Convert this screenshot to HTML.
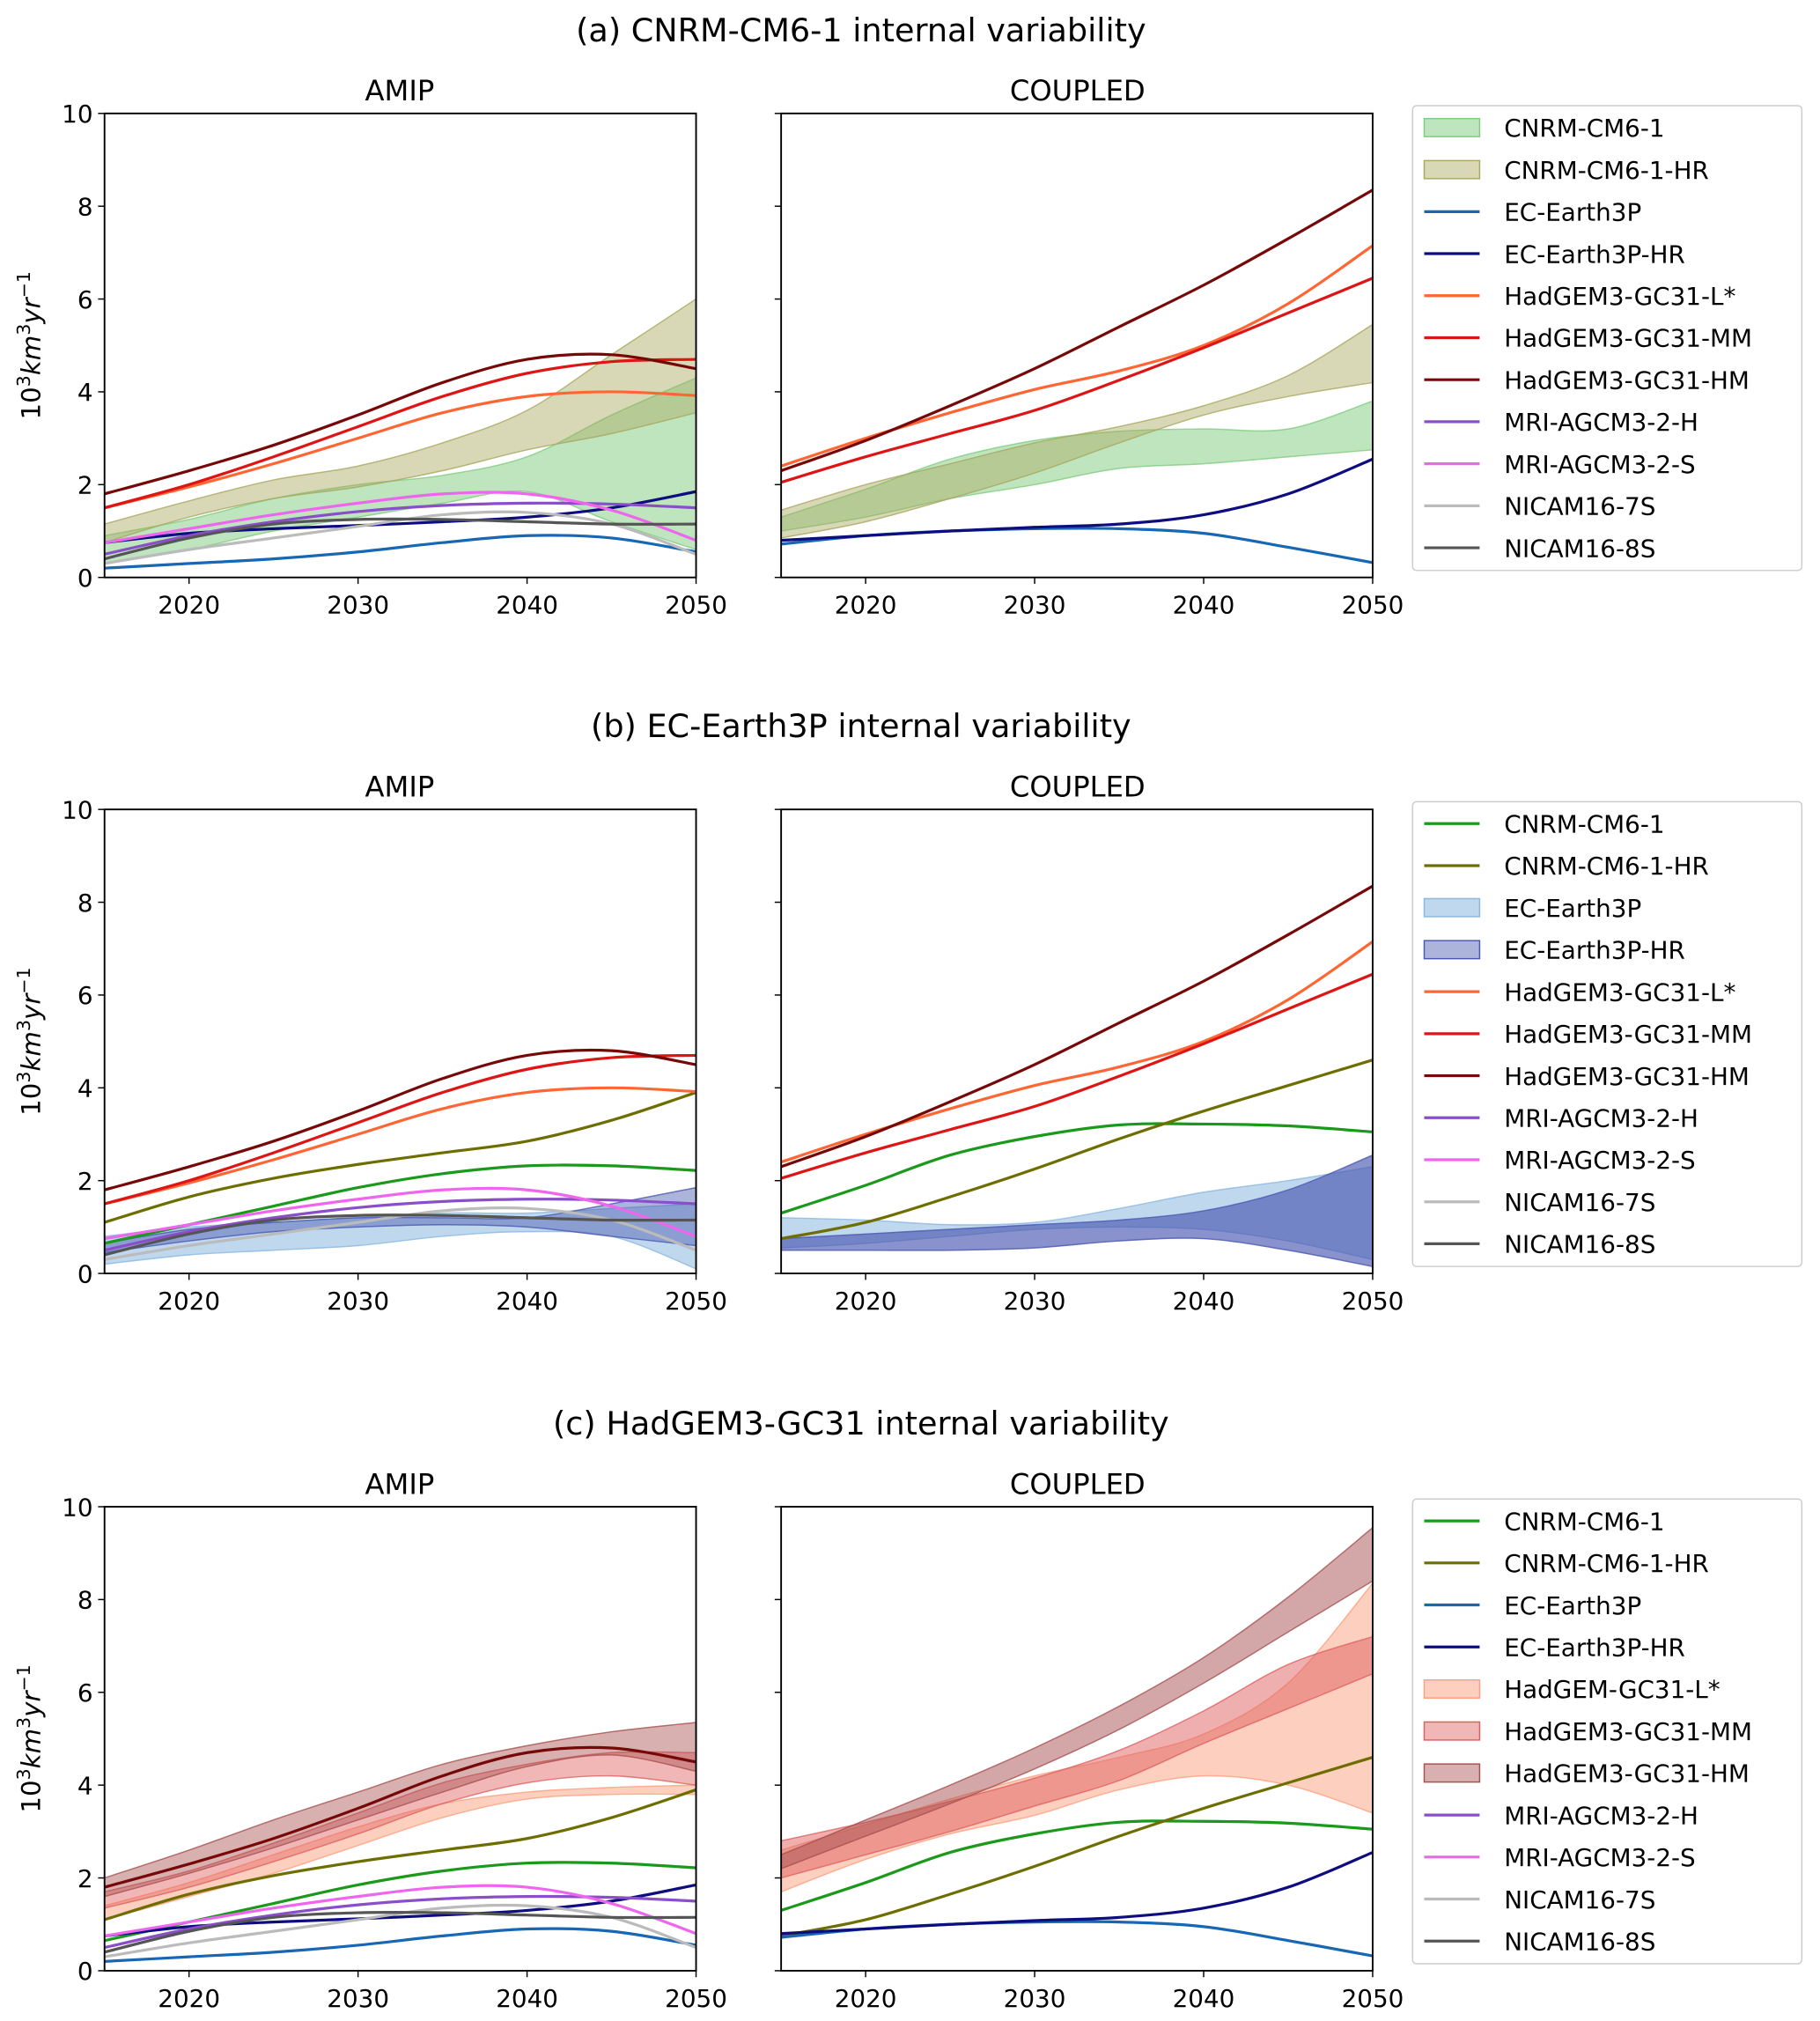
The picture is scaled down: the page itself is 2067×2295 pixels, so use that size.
<!DOCTYPE html>
<html><head><meta charset="utf-8"><style>html,body{margin:0;padding:0;background:#fff}svg{display:block}</style></head>
<body>
<svg id="s" width="2067" height="2295" viewBox="0 0 1412 1568" xmlns="http://www.w3.org/2000/svg" font-family="'DejaVu Sans','Liberation Sans',sans-serif"></svg>
<script>
const S=document.getElementById('s');let h='';
const C={ec:'#1767b5',echr:'#0d0d80',L:'#ff6633',MM:'#dd1515',HM:'#770808',mh:'#8a4fc8',ms:'#ee66ee',n7:'#bbbbbb',n8:'#555555',cn:'#1a991a',cnhr:'#6e6e00'};
const A={ec:[.2,.3,.4,.55,.75,.9,.85,.55],echr:[.75,.95,1.05,1.12,1.2,1.3,1.5,1.85],L:[1.5,1.95,2.45,3.0,3.55,3.9,4.0,3.92],MM:[1.5,2.0,2.6,3.25,3.9,4.4,4.65,4.7],HM:[1.8,2.3,2.85,3.5,4.2,4.7,4.8,4.5],mh:[.5,.9,1.2,1.42,1.55,1.6,1.58,1.5],ms:[.75,1.05,1.35,1.6,1.8,1.8,1.45,.8],n7:[.3,.6,.85,1.1,1.35,1.4,1.15,.5],n8:[.4,.85,1.15,1.25,1.25,1.2,1.15,1.15],cn:[.65,1.05,1.45,1.85,2.15,2.32,2.32,2.22],cnhr:[1.1,1.65,2.05,2.35,2.6,2.85,3.3,3.9]};
const B={ec:[.72,.9,1.0,1.05,1.05,.95,.65,.32],echr:[.8,.9,1.0,1.08,1.15,1.35,1.8,2.55],L:[2.4,3.0,3.55,4.05,4.45,5.0,5.9,7.15],MM:[2.05,2.6,3.1,3.6,4.25,4.95,5.7,6.45],HM:[2.3,2.95,3.7,4.5,5.4,6.3,7.3,8.35],cn:[1.3,1.9,2.55,2.95,3.2,3.22,3.18,3.05],cnhr:[.75,1.1,1.65,2.25,2.9,3.5,4.05,4.6]};
function path(pts){let d='M'+pts[0][0].toFixed(1)+','+pts[0][1].toFixed(1);for(let i=0;i<pts.length-1;i++){const p0=pts[Math.max(0,i-1)],p1=pts[i],p2=pts[i+1],p3=pts[Math.min(pts.length-1,i+2)];d+=`C${(p1[0]+(p2[0]-p0[0])/6).toFixed(1)},${(p1[1]+(p2[1]-p0[1])/6).toFixed(1)} ${(p2[0]-(p3[0]-p1[0])/6).toFixed(1)},${(p2[1]-(p3[1]-p1[1])/6).toFixed(1)} ${p2[0].toFixed(1)},${p2[1].toFixed(1)}`;}return d;}
function panel(x0,y0,lines,data,bands,ylab){
 const W=459,H=360,X=i=>x0+i*W/7,Y=v=>y0+H-v*H/10;
 const P=a=>a.map((v,i)=>[X(i),Y(v)]);
 h+=`<defs><clipPath id="c${x0}${y0}"><rect x="${x0}" y="${y0}" width="${W}" height="${H}"/></clipPath></defs><g clip-path="url(#c${x0}${y0})">`;
 for(const b of bands){const t=P(b[1]),l=P(b[2]).reverse();h+=`<path d="${path(t)}L${l[0][0]},${l[0][1]}${path(l).slice(path(l).indexOf('C'))}Z" fill="${b[0]}" fill-opacity="${b[3]}" stroke="${b[0]}" stroke-opacity="0.8" stroke-width="1"/>`;}
 for(const k of lines){if(data[k])h+=`<path d="${path(P(data[k]))}" fill="none" stroke="${C[k]}" stroke-width="2.2"/>`;}
 h+='</g>';
 h+=`<rect x="${x0}" y="${y0}" width="${W}" height="${H}" fill="none" stroke="#000" stroke-width="1.3"/>`;
 for(let v=0;v<=10;v+=2){const y=Y(v);h+=`<line x1="${x0-5}" x2="${x0}" y1="${y}" y2="${y}" stroke="#000"/>`;if(ylab)h+=`<text x="${x0-9}" y="${y+7}" font-size="19" text-anchor="end">${v}</text>`;}
 [2020,2030,2040,2050].forEach(yr=>{const x=x0+(yr-2015)/35*W;h+=`<line x1="${x}" x2="${x}" y1="${y0+H}" y2="${y0+H+5}" stroke="#000"/><text x="${x}" y="${y0+H+28}" font-size="19" text-anchor="middle">${yr}</text>`;});
}
function legend(y0,items){const hgt=items.length*32.6+2;h+=`<rect x="1096" y="${y0}" width="302" height="${hgt}" rx="3" fill="#fff" stroke="#ccc"/>`;
 items.forEach((it,i)=>{const y=y0+17+i*32.6;if(it[2])h+=`<rect x="1105" y="${y-7}" width="43" height="14" fill="${it[1]}" fill-opacity="${it[2]}" stroke="${it[1]}"/>`;else h+=`<line x1="1105" x2="1148" y1="${y}" y2="${y}" stroke="${it[1]}" stroke-width="2.2"/>`;h+=`<text x="1167" y="${y+7}" font-size="19">${it[0]}</text>`;});}
const allL=['ec','echr','L','MM','HM','mh','ms','n7','n8'];
const tops=[88,628,1169],titles=['(a) CNRM-CM6-1 internal variability','(b) EC-Earth3P internal variability','(c) HadGEM3-GC31 internal variability'];
const g='#7fcc7f',o='#a8a860',lb='#8ab8e0',db='#4a58b0',pe='#fca07e',rm='#e06060',hm='#a85050';
const bandsA=[[[g,[.9,1.25,1.7,2.0,2.2,2.6,3.5,4.3],[.3,.6,1.0,1.3,1.6,1.85,1.2,.6],.5],[o,[1.15,1.65,2.1,2.4,2.9,3.6,4.8,6.0],[.75,1.3,1.7,1.95,2.3,2.75,3.1,3.55],.45]],
 [[lb,[.8,1.0,1.1,1.2,1.3,1.3,1.4,1.5],[.2,.4,.5,.6,.8,.9,.8,.1],.55],[db,[.65,.95,1.1,1.2,1.2,1.2,1.5,1.85],[.45,.7,.9,1.0,1.05,1.0,.8,.6],.45]],
 [[pe,[1.4,1.9,2.5,3.1,3.6,3.85,3.95,4.0],[1.1,1.6,2.1,2.7,3.3,3.7,3.8,3.8],.5],[rm,[1.7,2.15,2.75,3.4,4.05,4.45,4.7,4.7],[1.35,1.8,2.35,2.95,3.6,4.05,4.2,4.0],.45],[hm,[2.0,2.6,3.25,3.85,4.45,4.85,5.15,5.35],[1.6,2.1,2.65,3.25,3.85,4.4,4.65,4.3],.45]]];
const bandsB=[[[g,[1.3,1.9,2.55,2.95,3.15,3.2,3.2,3.8],[1.0,1.3,1.7,2.0,2.35,2.45,2.6,2.75],.5],[o,[1.45,2.0,2.45,2.9,3.25,3.7,4.35,5.45],[.85,1.2,1.7,2.25,2.9,3.5,3.9,4.2],.45]],
 [[lb,[1.2,1.15,1.05,1.1,1.4,1.75,2.0,2.3],[.55,.65,.8,.95,1.0,.95,.7,.3],.55],[db,[.75,.85,.95,1.05,1.15,1.35,1.8,2.55],[.5,.5,.5,.55,.7,.75,.5,.15],.65]],
 [[pe,[2.6,3.15,3.7,4.2,4.6,5.1,6.2,8.35],[1.7,2.4,2.95,3.35,3.9,4.2,4.0,3.4],.5],[rm,[2.8,3.2,3.65,4.15,4.75,5.6,6.6,7.2],[2.0,2.5,3.0,3.55,4.1,4.9,5.65,6.4],.5],[hm,[2.5,3.25,4.0,4.8,5.7,6.75,8.05,9.55],[2.2,2.9,3.6,4.35,5.2,6.2,7.3,8.4],.5]]];
const linesP=[allL,['cn','cnhr','L','MM','HM','mh','ms','n7','n8'],['cn','cnhr','ec','echr','mh','ms','n7','n8','HM']];
const linesQ=[allL,['cn','cnhr','L','MM','HM'],['cn','cnhr','ec','echr']];
const legs=[[['CNRM-CM6-1',g,.5],['CNRM-CM6-1-HR',o,.45],['EC-Earth3P',C.ec],['EC-Earth3P-HR',C.echr],['HadGEM3-GC31-L*',C.L],['HadGEM3-GC31-MM',C.MM],['HadGEM3-GC31-HM',C.HM]],
 [['CNRM-CM6-1',C.cn],['CNRM-CM6-1-HR',C.cnhr],['EC-Earth3P',lb,.55],['EC-Earth3P-HR',db,.45],['HadGEM3-GC31-L*',C.L],['HadGEM3-GC31-MM',C.MM],['HadGEM3-GC31-HM',C.HM]],
 [['CNRM-CM6-1',C.cn],['CNRM-CM6-1-HR',C.cnhr],['EC-Earth3P',C.ec],['EC-Earth3P-HR',C.echr],['HadGEM-GC31-L*',pe,.5],['HadGEM3-GC31-MM',rm,.45],['HadGEM3-GC31-HM',hm,.45]]];
const rest=[['MRI-AGCM3-2-H',C.mh],['MRI-AGCM3-2-S',C.ms],['NICAM16-7S',C.n7],['NICAM16-8S',C.n8]];
for(let p=0;p<3;p++){const t=tops[p];
 h+=`<text x="668" y="${t-56}" font-size="25" text-anchor="middle">${titles[p]}</text>`;
 h+=`<text x="310" y="${t-10}" font-size="22" text-anchor="middle">AMIP</text><text x="836" y="${t-10}" font-size="22" text-anchor="middle">COUPLED</text>`;
 panel(81,t,linesP[p],A,bandsA[p],true);panel(606,t,linesQ[p],B,bandsB[p],false);
 h+=`<text transform="translate(31,${t+180}) rotate(-90)" font-size="20" text-anchor="middle">10<tspan dy="-8" font-size="14">3</tspan><tspan dy="8" font-style="italic">km</tspan><tspan dy="-8" font-size="14">3</tspan><tspan dy="8" font-style="italic">yr</tspan><tspan dy="-8" font-size="14">−1</tspan></text>`;
 legend(t-6,legs[p].concat(rest));}
S.innerHTML=h;
</script>
</body></html>
